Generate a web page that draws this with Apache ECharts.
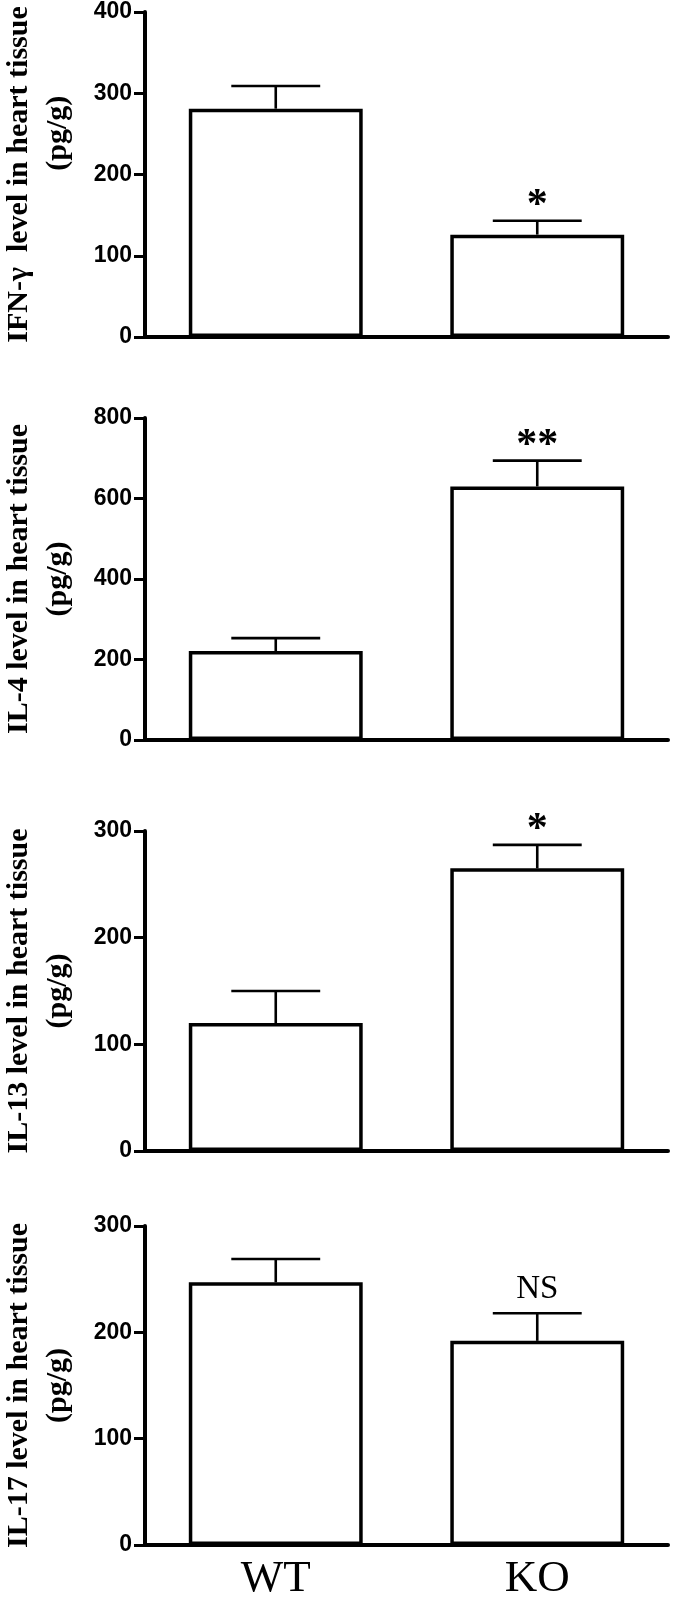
<!DOCTYPE html>
<html>
<head>
<meta charset="utf-8">
<script src="https://cdn.jsdelivr.net/npm/echarts@6/dist/echarts.min.js"></script>
<style>
  html, body { margin: 0; padding: 0; background: #fff; }
  #chart { width: 675px; height: 1599px; }
</style>
</head>
<body>
<div id="chart"></div>
<script>
// groups on the x axis
const groups = ['WT', 'KO']

// mean and error (SEM) per panel, pg/g
const ifnMean = [281, 126]
const ifnErr = [28, 17]
const il4Mean = [221, 630]
const il4Err = [32, 64]
const il13Mean = [120, 265]
const il13Err = [30, 22]
const il17Mean = [247, 192]
const il17Err = [22, 26]

// significance marks over KO
const ifnMarks = ['', '*']
const il4Marks = ['', '**']
const il13Marks = ['', '*']
const il17Marks = ['', 'NS']

// y axis names and ticks
const yNames = [
  'IFN-γ  level in heart tissue',
  'IL-4 level in heart tissue',
  'IL-13 level in heart tissue',
  'IL-17 level in heart tissue'
]
const yUnit = '(pg/g)'
const yMax = [400, 800, 300, 300]
const yStep = [100, 200, 100, 100]

const means = [ifnMean, il4Mean, il13Mean, il17Mean]
const errs = [ifnErr, il4Err, il13Err, il17Err]
const marks = [ifnMarks, il4Marks, il13Marks, il17Marks]

// layout of the four stacked panels (px)
const gridTop = [12, 418, 831, 1226]
const gridHeight = [325, 322, 320, 319]
const unitPad = [11, 0, 0, 0]

const serif = '"Liberation Serif", "Times New Roman", Times, serif'
const sans = '"Liberation Sans", Arial, Helvetica, sans-serif'

const myChart = echarts.init(document.getElementById('chart'), null, { renderer: 'canvas' })

function errorBar(markList) {
  return function (params, api) {
    const i = api.value(0)
    const mean = api.value(1)
    const err = api.value(2)
    const base = api.coord([i, mean])
    const top = api.coord([i, mean + err])
    const half = api.size([1, 0])[0] * 0.17
    const line = { stroke: '#000', lineWidth: 2.6 }
    const children = [
      { type: 'line', shape: { x1: base[0], y1: base[1], x2: top[0], y2: top[1] }, style: line },
      { type: 'line', shape: { x1: top[0] - half, y1: top[1], x2: top[0] + half, y2: top[1] }, style: line }
    ]
    const mark = markList[params.dataIndex]
    if (mark) {
      const isNS = mark === 'NS'
      children.push({
        type: 'text',
        x: top[0],
        y: top[1] - (isNS ? 24 : 15),
        style: {
          text: mark,
          fill: '#000',
          fontFamily: serif,
          fontSize: isNS ? 33 : 42,
          fontWeight: isNS ? 'normal' : 'bold',
          align: 'center',
          verticalAlign: 'middle'
        }
      })
    }
    return { type: 'group', children: children }
  }
}

const grid = []
const xAxis = []
const yAxis = []
const series = []

for (let k = 0; k < 4; k++) {
  const last = k === 3
  grid.push({ left: 145, width: 523, top: gridTop[k], height: gridHeight[k], outerBoundsMode: 'none', containLabel: false })
  xAxis.push({
    type: 'category',
    gridIndex: k,
    data: groups,
    axisLine: { lineStyle: { color: '#000', width: 4 } },
    axisTick: { alignWithLabel: true, length: 10, lineStyle: { color: '#666', width: 3 } },
    axisLabel: {
      show: last,
      margin: 12,
      color: '#000',
      fontFamily: serif,
      fontSize: 45
    },
    splitLine: { show: false }
  })
  yAxis.push({
    type: 'value',
    gridIndex: k,
    min: 0,
    max: yMax[k],
    interval: yStep[k],
    name: yNames[k] + '\n' + '\u00a0'.repeat(unitPad[k]) + yUnit,
    nameLocation: 'middle',
    nameRotate: 90,
    nameGap: 67,
    nameTextStyle: {
      color: '#000',
      fontFamily: serif,
      fontWeight: 'bold',
      fontSize: 30,
      lineHeight: 39,
      align: 'center'
    },
    axisLine: { show: true, lineStyle: { color: '#000', width: 4 } },
    axisTick: { show: true, length: 11, lineStyle: { color: '#000', width: 3 } },
    axisLabel: {
      margin: 13,
      color: '#000',
      fontFamily: sans,
      fontWeight: 'bold',
      fontSize: 23
    },
    splitLine: { show: false }
  })
  series.push({
    type: 'bar',
    xAxisIndex: k,
    yAxisIndex: k,
    barWidth: '66.5%',
    data: means[k],
    itemStyle: { color: '#fff', borderColor: '#000', borderWidth: 3.5 },
    silent: true
  })
  series.push({
    type: 'custom',
    xAxisIndex: k,
    yAxisIndex: k,
    renderItem: errorBar(marks[k]),
    data: means[k].map((m, i) => [i, m, errs[k][i]]),
    z: 3,
    silent: true
  })
}

const option = {
  animation: false,
  backgroundColor: '#fff',
  grid: grid,
  xAxis: xAxis,
  yAxis: yAxis,
  series: series
}

option && myChart.setOption(option)
</script>
</body>
</html>
